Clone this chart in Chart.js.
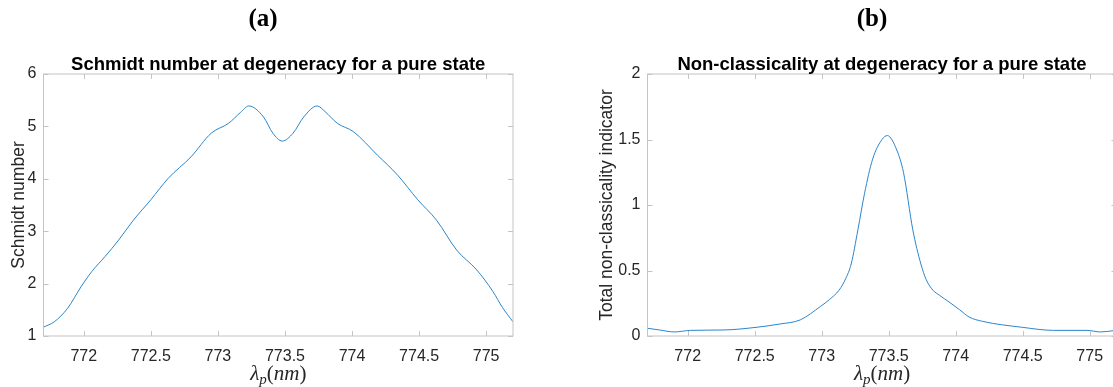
<!DOCTYPE html>
<html>
<head>
<meta charset="utf-8">
<script src="https://cdn.jsdelivr.net/npm/chart.js@4.4.1/dist/chart.umd.min.js"></script>
<style>
  body { margin: 0; width: 1113px; height: 387px; overflow: hidden; background: #fff; position: relative; }
  .panel { position: absolute; top: 0; height: 387px; }
</style>
</head>
<body>
<div class="panel" style="left:0;width:560px"><canvas id="chartA" width="560" height="387"></canvas></div>
<div class="panel" style="left:560px;width:604px"><canvas id="chartB" width="604" height="387"></canvas></div>
<script>
// wavelength ticks shared by both panels
let xTicks = [772, 772.5, 773, 773.5, 774, 774.5, 775];

// (a) Schmidt number
let schmidtX = [771.70, 771.78, 771.88, 771.98, 772.06, 772.16, 772.26, 772.37, 772.50, 772.63,
  772.80, 772.95, 773.08, 773.17, 773.23, 773.34, 773.41, 773.48, 773.56, 773.64,
  773.74, 773.80, 773.89, 774.01, 774.19, 774.34, 774.49, 774.63, 774.78, 774.93,
  775.05, 775.12, 775.20];
let schmidtY = [1.17, 1.27, 1.53, 1.94, 2.23, 2.52, 2.83, 3.21, 3.60, 4.01,
  4.42, 4.87, 5.06, 5.27, 5.39, 5.18, 4.87, 4.72, 4.87, 5.18,
  5.39, 5.28, 5.06, 4.90, 4.45, 4.07, 3.60, 3.21, 2.64, 2.26,
  1.85, 1.55, 1.27];
let schmidtTicks = [1, 2, 3, 4, 5, 6];

// (b) non-classicality
let nonclassX = [771.70, 771.79, 771.90, 772.02, 772.27, 772.51, 772.69, 772.84, 772.99, 773.06,
  773.13, 773.18, 773.22, 773.27, 773.32, 773.38, 773.45, 773.49, 773.56, 773.61,
  773.68, 773.74, 773.78, 773.83, 773.88, 773.95, 774.03, 774.10, 774.20, 774.50,
  774.73, 774.98, 775.08, 775.18, 775.25];
let nonclassY = [0.059, 0.046, 0.031, 0.043, 0.046, 0.066, 0.092, 0.123, 0.225, 0.28,
  0.35, 0.44, 0.55, 0.81, 1.09, 1.35, 1.50, 1.53, 1.42, 1.25,
  0.81, 0.55, 0.43, 0.35, 0.31, 0.26, 0.20, 0.145, 0.112, 0.066,
  0.043, 0.043, 0.031, 0.041, 0.05];
let nonclassTicks = [0, 0.5, 1, 1.5, 2];

let lineColor = "#2a86cc";
let boxColor = "#c4c4c4";
let textColor = "#262626";

// MATLAB-like box, inward ticks and all the captions
let matlabBox = {
  id: "matlabBox",
  afterDraw(chart, args, o) {
    let ctx = chart.ctx;
    let a = chart.chartArea;
    let x = chart.scales.x;
    let y = chart.scales.y;
    ctx.save();
    ctx.strokeStyle = boxColor;
    ctx.lineWidth = 1;
    ctx.strokeRect(a.left, a.top, a.right - a.left, a.bottom - a.top);
    ctx.beginPath();
    x.ticks.forEach((t) => {
      let px = Math.round(x.getPixelForValue(t.value)) + 0.5;
      ctx.moveTo(px, a.bottom);
      ctx.lineTo(px, a.bottom - 5);
      ctx.moveTo(px, a.top);
      ctx.lineTo(px, a.top + 5);
    });
    y.ticks.forEach((t) => {
      let py = Math.round(y.getPixelForValue(t.value)) + 0.5;
      ctx.moveTo(a.left, py);
      ctx.lineTo(a.left + 5, py);
      ctx.moveTo(a.right, py);
      ctx.lineTo(a.right - 5, py);
    });
    ctx.stroke();

    let cx = (a.left + a.right) / 2;
    ctx.fillStyle = "#000";
    ctx.textAlign = "center";
    ctx.textBaseline = "alphabetic";
    ctx.font = 'bold 25px "Liberation Serif"';
    ctx.fillText(o.panel, o.panelX, 26);
    ctx.font = 'bold 18.5px "Liberation Sans"';
    ctx.fillText(o.title, cx, 70);

    // y label
    ctx.fillStyle = textColor;
    ctx.font = '17.5px "Liberation Sans"';
    ctx.save();
    ctx.translate(o.ylabelX, (a.top + a.bottom) / 2);
    ctx.rotate(-Math.PI / 2);
    ctx.textBaseline = "middle";
    ctx.fillText(o.ylabel, 0, 0);
    ctx.restore();

    // x label: lambda_p (nm)
    let parts = [
      { s: "λ", f: 'italic 21px "Liberation Serif"', dy: 0 },
      { s: "p", f: 'italic 15px "Liberation Serif"', dy: 4 },
      { s: "(", f: '21px "Liberation Serif"', dy: 0 },
      { s: "nm", f: 'italic 21px "Liberation Serif"', dy: 0 },
      { s: ")", f: '21px "Liberation Serif"', dy: 0 },
    ];
    let w = 0;
    parts.forEach((p) => { ctx.font = p.f; p.w = ctx.measureText(p.s).width; w += p.w; });
    let px = cx - w / 2;
    ctx.textAlign = "left";
    ctx.fillStyle = textColor;
    parts.forEach((p) => { ctx.font = p.f; ctx.fillText(p.s, px, 380 + p.dy); px += p.w; });
    ctx.restore();
  },
};

function makeChart(id, xs, ys, yTicks, yMin, yMax, yWidth, rightPad, captions) {
  let points = xs.map((v, i) => ({ x: v, y: ys[i] }));
  return new Chart(document.getElementById(id), {
    type: "line",
    data: {
      datasets: [
        {
          data: points,
          borderColor: lineColor,
          borderWidth: 1,
          pointRadius: 0,
          cubicInterpolationMode: "monotone",
          fill: false,
        },
      ],
    },
    options: {
      responsive: false,
      animation: false,
      events: [],
      layout: { padding: { left: 0, top: 74, right: rightPad, bottom: 21 } },
      plugins: { legend: { display: false }, tooltip: { enabled: false }, matlabBox: captions },
      scales: {
        x: {
          type: "linear",
          min: 771.7,
          max: 775.2,
          grid: { display: false, drawTicks: false },
          border: { display: false },
          afterBuildTicks: (s) => { s.ticks = xTicks.map((v) => ({ value: v })); },
          afterFit: (s) => { s.height = 30; },
          ticks: {
            color: textColor, font: { family: "Liberation Sans", size: 16 }, padding: 11,
            maxRotation: 0, autoSkip: false, callback: (v) => String(v),
          },
        },
        y: {
          min: yMin,
          max: yMax,
          grid: { display: false, drawTicks: false },
          border: { display: false },
          afterBuildTicks: (s) => { s.ticks = yTicks.map((v) => ({ value: v })); },
          afterFit: (s) => { s.width = yWidth; },
          ticks: {
            color: textColor, font: { family: "Liberation Sans", size: 16 }, padding: 7,
            callback: (v) => String(v),
          },
        },
      },
    },
    plugins: [matlabBox],
  });
}

let chartA = makeChart("chartA", schmidtX, schmidtY, schmidtTicks, 1, 6, 43.5, 47, {
  panel: "(a)", panelX: 263, title: "Schmidt number at degeneracy for a pure state",
  ylabel: "Schmidt number", ylabelX: 19,
});
let chartB = makeChart("chartB", nonclassX, nonclassY, nonclassTicks, 0, 2, 87.5, 47.5, {
  panel: "(b)", panelX: 312, title: "Non-classicality at degeneracy for a pure state",
  ylabel: "Total non-classicality indicator", ylabelX: 47,
});
</script>
</body>
</html>
